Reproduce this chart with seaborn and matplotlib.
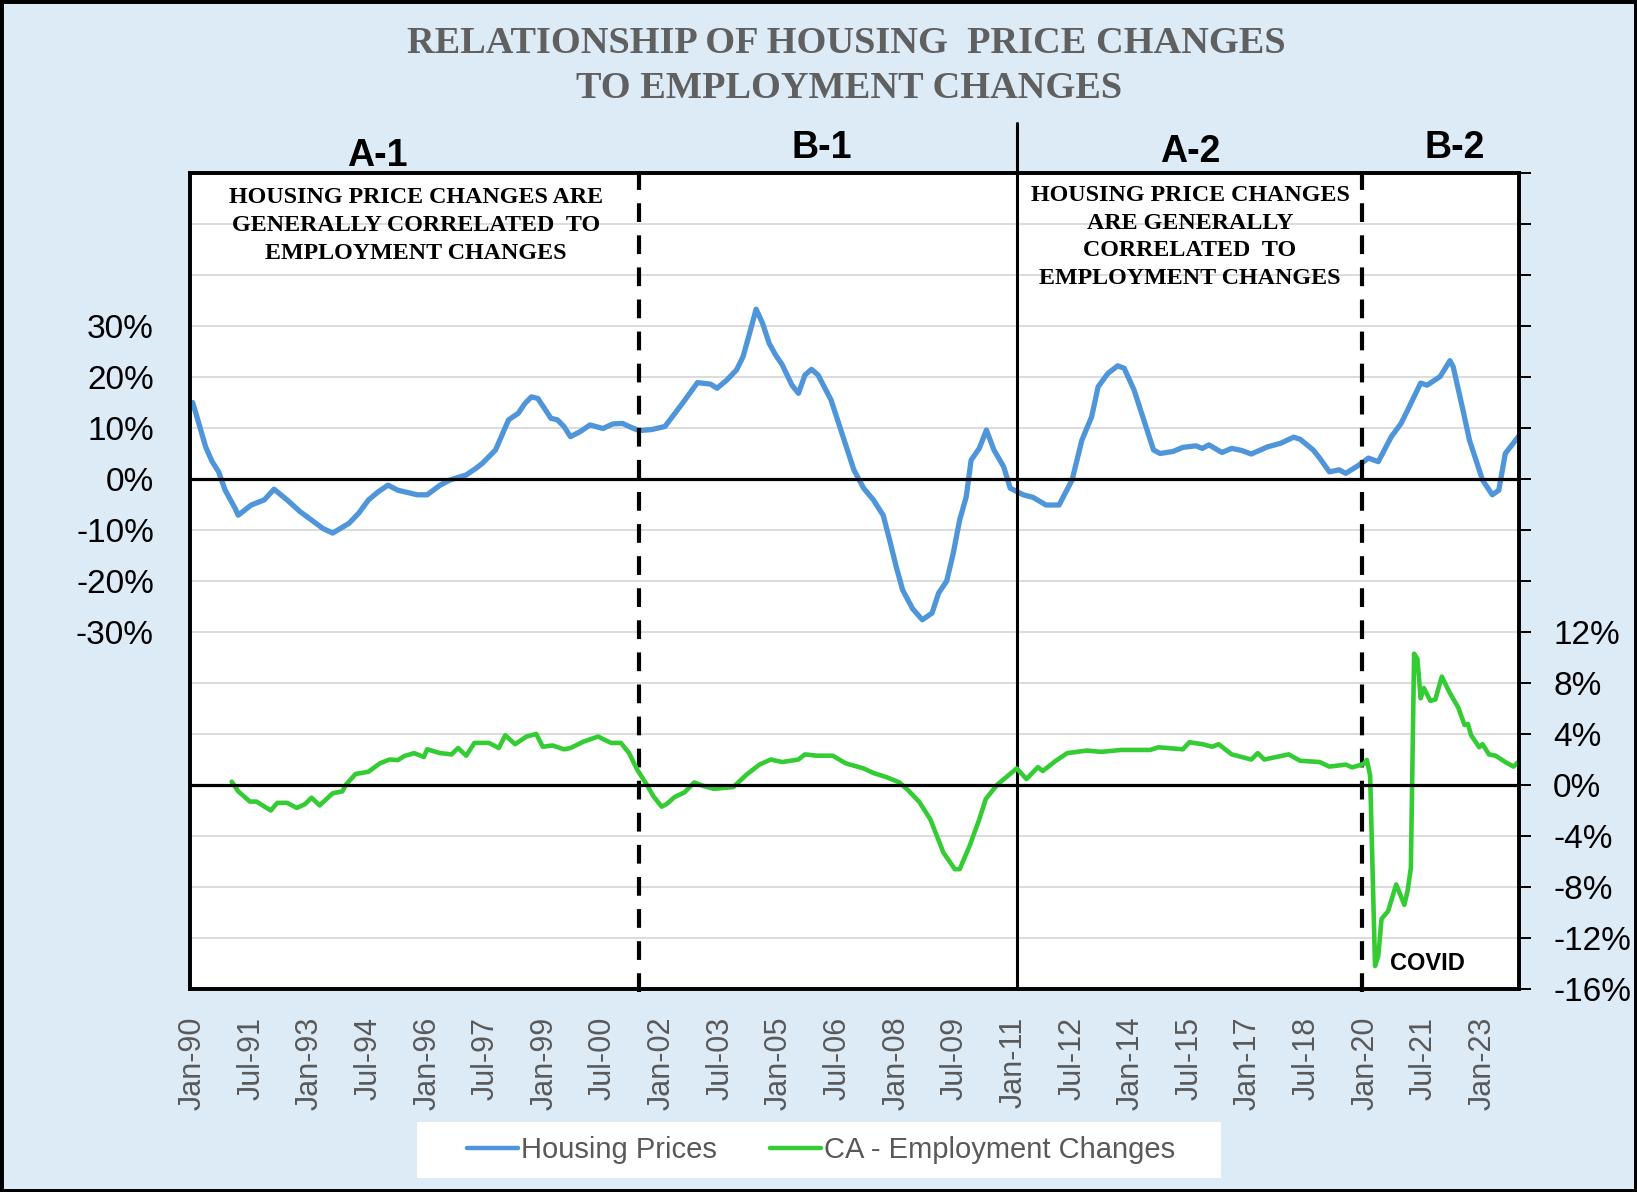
"""
Housing price changes vs CA employment changes, 1990-2023.
Twin-axis line chart with period markers (A-1, B-1, A-2, B-2).
"""

import matplotlib
matplotlib.use("Agg")
import matplotlib.pyplot as plt
import pandas as pd
import seaborn as sns
from matplotlib.lines import Line2D
from matplotlib.patches import Rectangle

sns.set_theme(style="white")
plt.rcParams["font.family"] = ["Liberation Sans", "DejaVu Sans"]

W, H = 1637, 1192
BG = "#DDEBF7"
BLUE = "#4E95D9"
GREEN = "#33CC33"
GRAY_TXT = "#595959"

# x values are months since Jan-1990
house_month = [0, 1, 4, 6, 8, 10, 13, 14, 18, 22, 25, 29, 33, 40, 43, 48, 51, 54,
               57, 60, 63, 69, 72, 76, 79, 84, 87, 89, 93, 97, 100, 102, 104, 106,
               110, 112, 114, 116, 119, 122, 126, 129, 132, 134, 137, 141, 145, 150,
               155, 159, 161, 164, 167, 169, 171, 173, 175, 177, 179, 181, 184, 186,
               188, 190, 192, 196, 199, 201, 203, 206, 209, 212, 214, 216, 218, 221,
               224, 227, 229, 231.5, 233.5, 235.5, 237.5, 239, 241.5, 243.7, 246, 249,
               251, 255, 258, 262, 266, 270, 273, 276, 278, 281, 284, 286, 289, 292,
               295, 297, 301, 304, 308, 310, 312, 316, 319, 322, 325, 330, 334, 338,
               340, 344, 346, 349, 352, 354, 358, 361, 364, 368, 371, 373, 377, 379,
               383, 386, 387, 390, 392, 396, 399, 401, 403, 407]
house_pct = [15.0, 12.9, 6.3, 3.4, 1.4, -2.2, -5.7, -7.1, -5.1, -4.1, -2.0, -4.1,
             -6.4, -9.7, -10.6, -8.7, -6.7, -4.1, -2.5, -1.2, -2.2, -3.1, -3.1, -1.2,
             -0.2, 0.8, 2.1, 3.1, 5.7, 11.6, 12.9, 14.8, 16.1, 15.8, 11.9, 11.6, 10.3,
             8.3, 9.3, 10.6, 9.9, 10.8, 10.9, 10.3, 9.5, 9.7, 10.3, 14.5, 18.9, 18.6,
             17.8, 19.4, 21.4, 24.0, 28.6, 33.3, 30.5, 26.6, 24.3, 22.4, 18.4, 16.8,
             20.4, 21.5, 20.4, 15.5, 9.6, 5.7, 1.8, -1.8, -4.1, -7.1, -12.0, -17.2,
             -21.8, -25.4, -27.6, -26.3, -22.4, -20.0, -14.6, -8.0, -3.5, 3.7, 6.0,
             9.6, 5.7, 2.4, -1.8, -3.1, -3.6, -5.1, -5.1, -0.2, 7.6, 12.2, 18.1, 20.7,
             22.2, 21.7, 17.5, 11.6, 5.7, 5.0, 5.4, 6.2, 6.5, 6.0, 6.7, 5.2, 6.0, 5.6,
             4.9, 6.3, 7.0, 8.2, 7.8, 5.7, 4.1, 1.4, 1.8, 1.1, 2.7, 4.1, 3.4, 8.3,
             10.9, 13.5, 18.8, 18.4, 20.1, 23.2, 22.0, 13.5, 7.6, -0.2, -3.1, -2.2,
             5.0, 8.3]

emp_month = [12, 14, 17.6, 19.6, 24, 26, 29, 32, 34.5, 36.5, 39, 43, 46, 47, 50, 54,
             57.5, 60.5, 63, 65, 68, 71, 72, 76, 79.5, 81.5, 84, 86.5, 91, 94, 96,
             99, 102.5, 105.5, 107.5, 110.5, 114, 116, 120, 124.5, 126, 128.5, 131.5,
             134, 136.5, 139.5, 141.5, 144, 145.5, 148, 151, 154, 156.5, 160, 166,
             170, 174, 177.5, 181, 186, 188, 191.5, 196.5, 200.5, 206, 209, 213, 217,
             219.5, 223, 226.5, 230.5, 234, 235.5, 238.5, 241.5, 243.5, 247, 249.5,
             253, 256, 259.5, 261, 265, 268.5, 274.5, 279, 285, 294, 296.5, 304, 306,
             310, 313, 315, 319, 325, 327, 329, 336.5, 340, 346, 349, 354, 356, 359.5,
             360.5, 361.5, 363, 364, 365, 367, 369.5, 372, 373, 374, 375, 376, 377,
             378, 380, 381.5, 383.5, 386, 388.5, 390.5, 391.5, 392.5, 395, 396, 398,
             400, 403, 405.5, 407]
emp_pct = [0.26, -0.5, -1.3, -1.3, -2.0, -1.4, -1.4, -1.8, -1.5, -1.0, -1.6, -0.65,
           -0.5, 0.0, 0.86, 1.04, 1.7, 2.0, 1.95, 2.27, 2.5, 2.2, 2.8, 2.5, 2.4, 2.9,
           2.3, 3.3, 3.3, 2.9, 3.9, 3.2, 3.8, 4.0, 3.0, 3.1, 2.8, 2.9, 3.4, 3.8, 3.6,
           3.3, 3.3, 2.5, 1.2, 0.0, -0.9, -1.7, -1.5, -0.94, -0.58, 0.2, -0.05, -0.3,
           -0.16, 0.8, 1.6, 2.0, 1.8, 2.0, 2.4, 2.3, 2.3, 1.7, 1.3, 0.94, 0.62, 0.2,
           -0.37, -1.3, -2.7, -5.3, -6.6, -6.6, -4.8, -2.7, -1.1, 0.02, 0.55, 1.3,
           0.47, 1.4, 1.1, 1.9, 2.5, 2.7, 2.6, 2.75, 2.75, 2.96, 2.8, 3.35, 3.2, 3.0,
           3.2, 2.4, 2.0, 2.5, 2.0, 2.4, 1.9, 1.8, 1.44, 1.6, 1.38, 1.65, 1.97, 0.73,
           -14.2, -13.4, -10.5, -9.9, -7.8, -9.4, -8.3, -6.5, 10.3, 9.9, 6.8, 7.6,
           6.6, 6.7, 8.5, 7.2, 6.1, 4.7, 4.8, 3.9, 2.96, 3.2, 2.4, 2.3, 1.8, 1.44,
           1.8]

tick_months = list(range(0, 397, 18))
tick_labels = ["Jan-90", "Jul-91", "Jan-93", "Jul-94", "Jan-96", "Jul-97", "Jan-99",
               "Jul-00", "Jan-02", "Jul-03", "Jan-05", "Jul-06", "Jan-08", "Jul-09",
               "Jan-11", "Jul-12", "Jan-14", "Jul-15", "Jan-17", "Jul-18", "Jan-20",
               "Jul-21", "Jan-23"]

left_ticks = list(range(-100, 61, 10))
right_ticks = list(range(-16, 49, 4))

# period boundaries (months since Jan-1990)
dashed_marks = [136.9, 359.1]
solid_mark = 253

section_labels = ["A-1", "B-1", "A-2", "B-2"]
note_a1 = ["HOUSING PRICE CHANGES ARE", "GENERALLY CORRELATED  TO",
           "EMPLOYMENT CHANGES"]
note_a2 = ["HOUSING PRICE CHANGES", "ARE GENERALLY", "CORRELATED  TO",
           "EMPLOYMENT CHANGES"]


def fx(px):
    return px / W


def fy(py):
    return 1 - py / H


fig = plt.figure(figsize=(W / 100, H / 100), dpi=100, facecolor=BG)
ax = fig.add_axes([fx(190), fy(989), (1519 - 190) / W, (989 - 173) / H])
ax.set_facecolor("white")
ax2 = ax.twinx()

house = pd.DataFrame({"month": house_month, "pct": house_pct})
emp = pd.DataFrame({"month": emp_month, "pct": emp_pct})

sns.lineplot(data=house, x="month", y="pct", ax=ax, color=BLUE, lw=3.8,
             estimator=None, legend=False)
sns.lineplot(data=emp, x="month", y="pct", ax=ax2, color=GREEN, lw=3.3,
             estimator=None, legend=False)

ax.set_xlim(-0.8, 407.2)
ax.set_ylim(-100, 60)
ax2.set_ylim(-16, 48)
ax.set_xlabel("")
ax.set_ylabel("")
ax2.set_ylabel("")

# left axis
ax.set_yticks(left_ticks)
ax.set_yticklabels([f"{v}%" if -30 <= v <= 30 else "" for v in left_ticks])
ax.tick_params(axis="y", length=0, pad=26, labelsize=24, labelcolor="black")
ax.grid(axis="y", color="#D9D9D9", lw=1.3)
ax.grid(axis="x", visible=False)
ax.axhline(0, color="black", lw=2.3, zorder=3)

# right axis
ax2.set_yticks(right_ticks)
ax2.set_yticklabels([f"{v}%" if v <= 12 else "" for v in right_ticks])
ax2.tick_params(axis="y", right=True, length=8.5, width=1.4, color="black",
                direction="out", pad=16, labelsize=24, labelcolor="black")
ax2.grid(False)
ax2.axhline(0, color="black", lw=2.3, zorder=3)

# x axis
ax.set_xticks(tick_months)
ax.set_xticklabels(tick_labels, rotation=90, color=GRAY_TXT)
ax.tick_params(axis="x", length=0, pad=20, labelsize=22)

for a in (ax, ax2):
    for sp in a.spines.values():
        sp.set_visible(True)
        sp.set_color("black")
        sp.set_linewidth(2.6)

# period dividers
for m in dashed_marks:
    ax.axvline(m, ymin=-0.004, ymax=1, color="black", lw=3.0,
               ls=(0, (4.5, 3.2)), clip_on=False, zorder=4)
ax.axvline(solid_mark, ymin=0, ymax=1.061, color="black", lw=2.2,
           clip_on=False, zorder=4)

# titles and notes
fig.text(fx(846), fy(53), "RELATIONSHIP OF HOUSING  PRICE CHANGES", ha="center",
         va="baseline", family="Liberation Serif", weight="bold", size=27.6,
         color="#606060")
fig.text(fx(849), fy(98), "TO EMPLOYMENT CHANGES", ha="center", va="baseline",
         family="Liberation Serif", weight="bold", size=27.6, color="#606060")

for label, x, y in zip(section_labels, [377, 822, 1190, 1455], [166, 158, 162, 158]):
    fig.text(fx(x), fy(y), label, ha="center", va="baseline", weight="bold",
             size=27, color="black")

for i, line in enumerate(note_a1):
    fig.text(fx(416), fy(203 + 28 * i), line, ha="center", va="baseline",
             family="Liberation Serif", weight="bold", size=17.3, color="black")
for i, line in enumerate(note_a2):
    fig.text(fx(1190), fy(201 + 27.7 * i), line, ha="center", va="baseline",
             family="Liberation Serif", weight="bold", size=17.3, color="black")

fig.text(fx(1427), fy(970), "COVID", ha="center", va="baseline", weight="bold",
         size=17, color="black")

# legend on a white panel
fig.patches.append(Rectangle((fx(417), fy(1178)), (1221 - 417) / W, 56 / H,
                             transform=fig.transFigure, facecolor="white",
                             edgecolor="none", zorder=1))
handles = [Line2D([], [], color=BLUE, lw=3.2), Line2D([], [], color=GREEN, lw=3.2)]
fig.legend(handles, ["Housing Prices", "CA - Employment Changes"], loc="center",
           bbox_to_anchor=(fx(821), fy(1150)), ncol=2, frameon=False, fontsize=21,
           handlelength=1.75, handletextpad=0.1, columnspacing=1.8,
           labelcolor=GRAY_TXT)

# outer frame
fig.patches.append(Rectangle((0, 0), 1, 1, transform=fig.transFigure, fill=False,
                             edgecolor="black", lw=5, zorder=10))

fig.savefig("out.png", dpi=100, facecolor=BG)
